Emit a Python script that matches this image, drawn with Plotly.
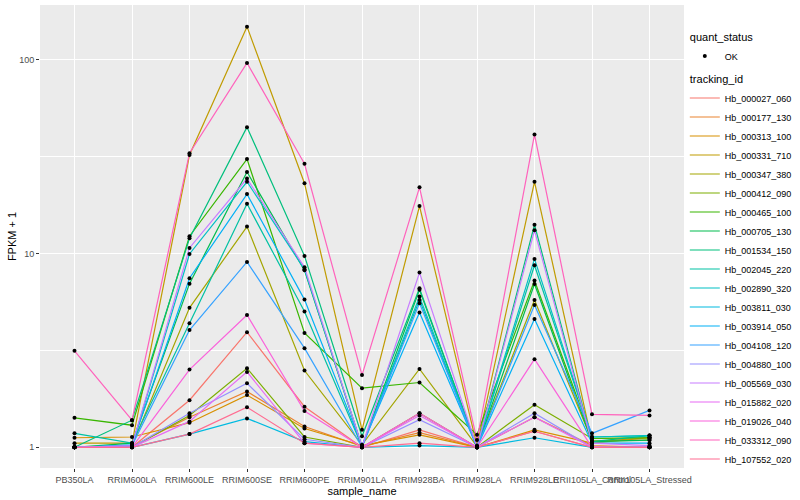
import plotly.graph_objects as go

samples = ["PB350LA", "RRIM600LA", "RRIM600LE", "RRIM600SE", "RRIM600PE", "RRIM901LA",
           "RRIM928BA", "RRIM928LA", "RRIM928LE", "RRII105LA_Control", "RRII105LA_Stressed"]

tracking_ids = ["Hb_000027_060", "Hb_000177_130", "Hb_000313_100", "Hb_000331_710", "Hb_000347_380",
                "Hb_000412_090", "Hb_000465_100", "Hb_000705_130", "Hb_001534_150", "Hb_002045_220",
                "Hb_002890_320", "Hb_003811_030", "Hb_003914_050", "Hb_004108_120", "Hb_004880_100",
                "Hb_005569_030", "Hb_015882_020", "Hb_019026_040", "Hb_033312_090", "Hb_107552_020"]

# FPKM + 1 per sample (order of `samples`)
hb_000027_060 = [1.00, 1.00, 1.75, 3.93, 1.62, 1.00, 1.23, 1.00, 1.21, 1.00, 1.00]
hb_000177_130 = [1.00, 1.01, 1.43, 1.94, 1.28, 1.01, 1.19, 1.00, 1.43, 1.02, 1.00]
hb_000313_100 = [1.12, 1.13, 1.34, 1.86, 1.25, 1.02, 1.16, 1.00, 1.23, 1.05, 1.12]
hb_000331_710 = [1.05, 1.05, 32.3, 148.7, 23.1, 1.23, 17.6, 1.02, 23.5, 1.07, 1.12]
hb_000347_380 = [1.00, 1.02, 5.25, 13.8, 2.49, 1.03, 2.54, 1.01, 5.76, 1.08, 1.09]
hb_000412_090 = [1.00, 1.00, 1.46, 2.56, 1.13, 1.00, 1.50, 1.00, 1.66, 1.11, 1.12]
hb_000465_100 = [1.42, 1.30, 12.3, 30.8, 3.89, 2.02, 2.16, 1.16, 7.26, 1.11, 1.12]
hb_000705_130 = [1.00, 1.05, 7.00, 26.4, 8.20, 1.01, 6.50, 1.00, 6.97, 1.07, 1.09]
hb_001534_150 = [1.00, 1.38, 12.0, 45.0, 9.73, 1.14, 6.62, 1.00, 14.1, 1.07, 1.15]
hb_002045_220 = [1.18, 1.05, 4.37, 18.1, 5.02, 1.01, 5.77, 1.00, 8.71, 1.13, 1.15]
hb_002890_320 = [1.00, 1.02, 9.96, 23.5, 8.30, 1.01, 6.00, 1.00, 9.39, 1.13, 1.15]
hb_003811_030 = [1.00, 1.00, 1.17, 1.41, 1.07, 1.00, 1.02, 1.00, 1.12, 1.00, 1.00]
hb_003914_050 = [1.00, 1.03, 7.46, 20.3, 5.79, 1.02, 4.96, 1.00, 4.60, 1.05, 1.05]
hb_004108_120 = [1.00, 1.02, 4.03, 9.06, 3.25, 1.00, 5.55, 1.00, 5.43, 1.18, 1.55]
hb_004880_100 = [1.00, 1.00, 1.50, 2.14, 1.10, 1.00, 1.39, 1.00, 1.50, 1.00, 1.00]
hb_005569_030 = [1.00, 1.02, 10.7, 24.4, 8.50, 1.01, 7.98, 1.00, 13.2, 1.05, 1.02]
hb_015882_020 = [1.00, 1.00, 1.36, 2.45, 1.05, 1.00, 1.46, 1.00, 1.43, 1.00, 1.00]
hb_019026_040 = [1.00, 1.00, 2.52, 4.82, 1.54, 1.00, 1.50, 1.00, 2.85, 1.00, 1.00]
hb_033312_090 = [3.15, 1.38, 33.0, 96.6, 29.1, 2.36, 22.0, 1.09, 41.2, 1.48, 1.46]
hb_107552_020 = [1.00, 1.00, 1.17, 1.61, 1.05, 1.00, 1.05, 1.00, 1.21, 1.00, 1.00]

series_values = [hb_000027_060, hb_000177_130, hb_000313_100, hb_000331_710, hb_000347_380,
                 hb_000412_090, hb_000465_100, hb_000705_130, hb_001534_150, hb_002045_220,
                 hb_002890_320, hb_003811_030, hb_003914_050, hb_004108_120, hb_004880_100,
                 hb_005569_030, hb_015882_020, hb_019026_040, hb_033312_090, hb_107552_020]

colors = ["#F8766D", "#EA8331", "#D89000", "#C09B00", "#A3A500", "#7CAE00", "#39B600", "#00BB4E",
          "#00BF7D", "#00C1A3", "#00BFC4", "#00BAE0", "#00B0F6", "#35A2FF", "#9590FF", "#C77CFF",
          "#E76BF3", "#FA62DB", "#FF62BC", "#FF6C91"]

font_family = "Liberation Sans, Arial, sans-serif"

fig = go.Figure()

for i, (tid, vals) in enumerate(zip(tracking_ids, series_values)):
    fig.add_trace(go.Scatter(
        x=samples, y=vals, mode="lines", name=tid,
        line=dict(color=colors[i], width=1.2),
        legendgroup="tracking_id",
        legendgrouptitle=dict(text="tracking_id", font=dict(size=11, color="black")) if i == 0 else None,
        legendrank=10 + i,
    ))

pts_x = [s for vals in series_values for s in samples]
pts_y = [v for vals in series_values for v in vals]
fig.add_trace(go.Scatter(
    x=pts_x, y=pts_y, mode="markers", name="OK",
    marker=dict(color="black", size=4, symbol="circle"),
    legendgroup="quant_status",
    legendgrouptitle=dict(text="quant_status", font=dict(size=11, color="black")),
    legendrank=1,
))

fig.update_layout(
    width=800, height=500,
    margin=dict(l=40, r=116, t=5, b=32),
    paper_bgcolor="white",
    plot_bgcolor="#EBEBEB",
    font=dict(family=font_family, size=9, color="black"),
    legend=dict(
        xref="container", yref="container",
        x=0.856, y=0.955, xanchor="left", yanchor="top",
        traceorder="grouped", tracegroupgap=4,
        font=dict(size=9, color="black"),
        itemwidth=30,
        maxheight=490,
        bgcolor="rgba(0,0,0,0)",
    ),
    showlegend=True,
)

fig.update_xaxes(
    type="category", categoryorder="array", categoryarray=samples,
    range=[-0.6, 10.6],
    showgrid=True, gridcolor="white", gridwidth=1.1,
    ticks="outside", ticklen=3, tickcolor="#333333", tickwidth=1,
    tickangle=0,
    tickfont=dict(size=9, color="#4D4D4D"),
    title=dict(text="sample_name", font=dict(size=11, color="black"), standoff=2),
    zeroline=False, showline=False,
    automargin=False,
)

fig.update_yaxes(
    type="log",
    range=[-0.107, 2.284],
    tickvals=[1, 10, 100], ticktext=["1", "10", "100"],
    showgrid=True, gridcolor="white", gridwidth=1.1,
    minor=dict(tickvals=[10 ** 0.5, 10 ** 1.5], showgrid=True, gridcolor="white",
               gridwidth=0.55, ticklen=0),
    ticks="outside", ticklen=3, tickcolor="#333333", tickwidth=1,
    tickfont=dict(size=9, color="#4D4D4D"),
    title=dict(text="FPKM + 1", font=dict(size=11, color="black"), standoff=0),
    zeroline=False, showline=False,
    automargin=False,
)

fig.write_html("out.html", config={"displayModeBar": False},
               post_script="document.body.style.margin='0px';")
